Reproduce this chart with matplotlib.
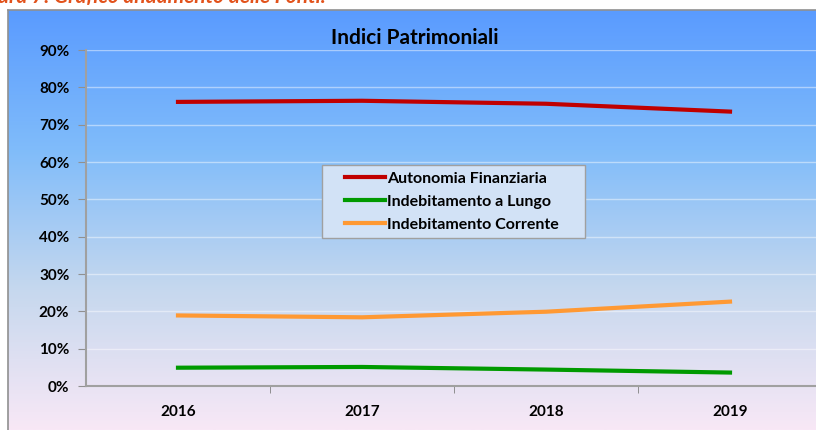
import numpy as np
import matplotlib
matplotlib.use("Agg")
import matplotlib.pyplot as plt
from matplotlib.colors import LinearSegmentedColormap
from matplotlib.patches import Rectangle

anni = ["2016", "2017", "2018", "2019"]
autonomia = [76.1, 76.4, 75.6, 73.5]
lungo = [4.9, 5.1, 4.4, 3.6]
corrente = [18.9, 18.4, 19.9, 22.6]
etichette_y = ["0%", "10%", "20%", "30%", "40%", "50%", "60%", "70%", "80%", "90%"]

plt.rcParams['font.family'] = ['Lato', 'DejaVu Sans']
plt.rcParams['font.weight'] = 'bold'

W, H = 816, 430
fig = plt.figure(figsize=(W/100, H/100), dpi=100)

# sfondo sfumato del riquadro grafico
grad = LinearSegmentedColormap.from_list("sf", ["#5a9bff", "#80bcfa", "#c6d8ee", "#f8e8f6"])
bg = fig.add_axes([8/W, 0, 1 - 8/W, 1 - 10/H])
bg.imshow(np.linspace(0, 1, 256).reshape(-1, 1), aspect='auto', cmap=grad,
          extent=[0, 1, 0, 1])
bg.set_xticks([])
bg.set_yticks([])
for s in ['right', 'bottom']:
    bg.spines[s].set_visible(False)
for s in ['left', 'top']:
    bg.spines[s].set_color('#909090')
    bg.spines[s].set_linewidth(1.2)

# didascalia tagliata in alto
fig.text(-0.035, 1 - 3/H, "Figura 7: Grafico andamento delle Fonti.", color='#e2521b',
         fontsize=15, style='italic', weight='bold', va='baseline', ha='left')

ax = fig.add_axes([86/W, 1 - 386/H, 736/W, 336/H])
ax.patch.set_alpha(0)
x = np.arange(1, len(anni) + 1)
ax.plot(x, autonomia, color='#c00000', lw=3, label='Autonomia Finanziaria')
ax.plot(x, lungo, color='#009a00', lw=3, label='Indebitamento a Lungo')
ax.plot(x, corrente, color='#ff9933', lw=3, label='Indebitamento Corrente')

ax.set_xlim(0.5, len(anni) + 0.5)
ax.set_ylim(0, 90)
ax.set_yticks(np.arange(0, 91, 10))
ax.set_yticklabels(etichette_y, fontsize=11, weight='bold')
ax.set_xticks(x)
ax.set_xticklabels(anni, fontsize=11, weight='bold')
ax.set_xticks(np.arange(1.5, len(anni), 1), minor=True)
ax.tick_params(axis='x', which='major', length=0, pad=14)
ax.tick_params(axis='x', which='minor', length=5, color='#808080')
ax.tick_params(axis='y', length=6, color='#909090', pad=6)
ax.grid(axis='y', color='white', alpha=0.45, lw=1)
for s in ['top', 'right']:
    ax.spines[s].set_visible(False)
for s in ['left', 'bottom']:
    ax.spines[s].set_color('#a0a0a0')
    ax.spines[s].set_linewidth(1.5)

ax.set_title("Indici Patrimoniali", fontsize=15, weight='bold', x=(415-86)/736, y=1.0, pad=4)

# riquadro della legenda
ax_px = lambda px, py: ((px - 86)/736, (386 - py)/336)
x0, y1 = ax_px(322, 165)
x1, y0 = ax_px(585, 238)
ax.add_patch(Rectangle((x0, y0), x1 - x0, y1 - y0, transform=ax.transAxes,
                       facecolor='#d2e2f6', edgecolor='#a0a0a0', lw=1, zorder=4))

leg = ax.legend(loc='upper left', bbox_to_anchor=ax_px(340, 167),
                frameon=False, handlelength=2.5,
                handletextpad=0.15, borderpad=0.3, labelspacing=0.55,
                borderaxespad=0, prop={'weight': 'bold', 'size': 11.5})
leg.set_zorder(5)

fig.savefig("out.png", dpi=100)
